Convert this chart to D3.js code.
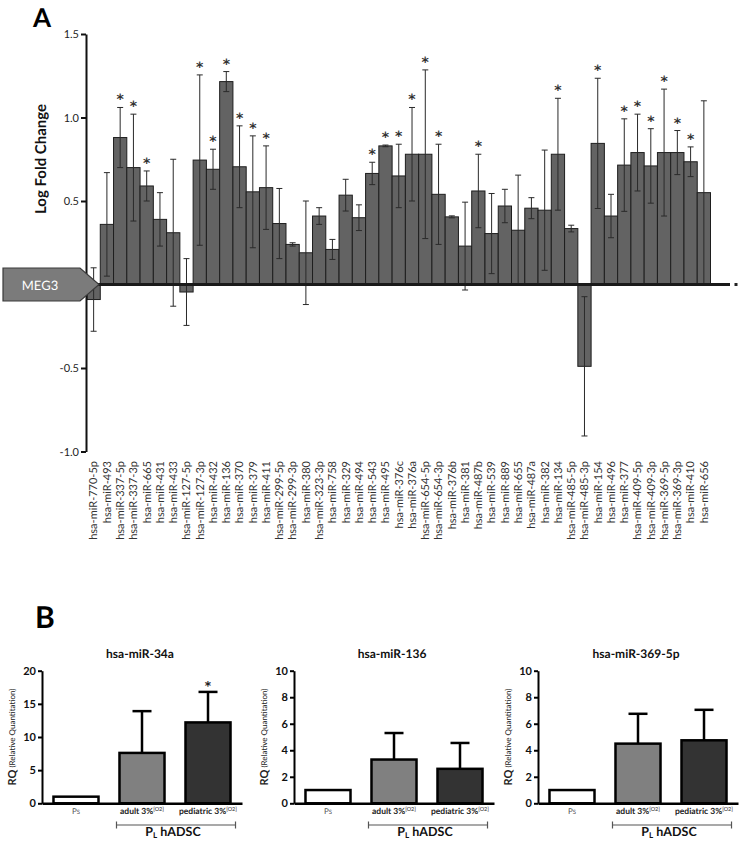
<!DOCTYPE html>
<html>
<head>
<meta charset="utf-8">
<script src="https://cdn.jsdelivr.net/npm/d3@7"></script>
<style>
  html, body { margin: 0; padding: 0; background: #fff; }
  svg { display: block; font-family: Lato, "Open Sans", sans-serif; }
</style>
</head>
<body>
<div id="chart"></div>
<script>
'use strict';

// Panel A data
const mirLabels = [
  'hsa-miR-770-5p', 'hsa-miR-493', 'hsa-miR-337-5p', 'hsa-miR-337-3p', 'hsa-miR-665',
  'hsa-miR-431', 'hsa-miR-433', 'hsa-miR-127-5p', 'hsa-miR-127-3p', 'hsa-miR-432',
  'hsa-miR-136', 'hsa-miR-370', 'hsa-miR-379', 'hsa-miR-411', 'hsa-miR-299-5p',
  'hsa-miR-299-3p', 'hsa-miR-380', 'hsa-miR-323-3p', 'hsa-miR-758', 'hsa-miR-329',
  'hsa-miR-494', 'hsa-miR-543', 'hsa-miR-495', 'hsa-miR-376c', 'hsa-miR-376a',
  'hsa-miR-654-5p', 'hsa-miR-654-3p', 'hsa-miR-376b', 'hsa-miR-381', 'hsa-miR-487b',
  'hsa-miR-539', 'hsa-miR-889', 'hsa-miR-655', 'hsa-miR-487a', 'hsa-miR-382',
  'hsa-miR-134', 'hsa-miR-485-5p', 'hsa-miR-485-3p', 'hsa-miR-154', 'hsa-miR-496',
  'hsa-miR-377', 'hsa-miR-409-5p', 'hsa-miR-409-3p', 'hsa-miR-369-5p', 'hsa-miR-369-3p',
  'hsa-miR-410', 'hsa-miR-656'
];
const logFold = [
  -0.09, 0.36, 0.88, 0.70, 0.59, 0.39, 0.31, -0.045, 0.745, 0.69,
  1.215, 0.705, 0.555, 0.58, 0.365, 0.24, 0.19, 0.41, 0.21, 0.535,
  0.40, 0.665, 0.83, 0.65, 0.78, 0.78, 0.54, 0.405, 0.23, 0.56,
  0.305, 0.47, 0.325, 0.457, 0.445, 0.78, 0.335, -0.49, 0.845, 0.41,
  0.715, 0.79, 0.71, 0.79, 0.79, 0.735, 0.55
];
const logErr = [
  0.19, 0.31, 0.18, 0.32, 0.09, 0.16, 0.44, 0.20, 0.51, 0.12,
  0.06, 0.245, 0.335, 0.25, 0.21, 0.01, 0.31, 0.05, 0.06, 0.095,
  0.077, 0.067, 0.005, 0.19, 0.28, 0.505, 0.30, 0.006, 0.263, 0.22,
  0.24, 0.10, 0.33, 0.063, 0.36, 0.335, 0.02, 0.417, 0.39, 0.13,
  0.277, 0.23, 0.223, 0.38, 0.132, 0.089, 0.55
];
const significant = [
  'hsa-miR-337-5p', 'hsa-miR-337-3p', 'hsa-miR-665', 'hsa-miR-127-3p', 'hsa-miR-432',
  'hsa-miR-136', 'hsa-miR-370', 'hsa-miR-379', 'hsa-miR-411', 'hsa-miR-543',
  'hsa-miR-495', 'hsa-miR-376c', 'hsa-miR-376a', 'hsa-miR-654-5p', 'hsa-miR-654-3p',
  'hsa-miR-487b', 'hsa-miR-134', 'hsa-miR-154', 'hsa-miR-377', 'hsa-miR-409-5p',
  'hsa-miR-409-3p', 'hsa-miR-369-5p', 'hsa-miR-369-3p', 'hsa-miR-410'
];
const ticksA = [-1.0, -0.5, 0, 0.5, 1.0, 1.5];

// Panel B data
const groupsB = ['Ps', 'adult', 'pediatric'];
const titlesB = ['hsa-miR-34a', 'hsa-miR-136', 'hsa-miR-369-5p'];
const maxB = [20, 10, 10];
const ticksB = [[0, 5, 10, 15, 20], [0, 2, 4, 6, 8, 10], [0, 2, 4, 6, 8, 10]];
const rqMiR34a = [1, 7.6, 12.2];
const sdMiR34a = [0, 6.3, 4.6];
const rqMiR136 = [1, 3.3, 2.6];
const sdMiR136 = [0, 2.0, 1.95];
const rqMiR369 = [1, 4.5, 4.75];
const sdMiR369 = [0, 2.25, 2.3];
const starB = [[false, false, true], [false, false, false], [false, false, false]];

const W = 740, H = 841;
const svg = d3.select('#chart').append('svg')
  .attr('width', W)
  .attr('height', H)
  .attr('text-rendering', 'geometricPrecision');

svg.append('rect').attr('width', W).attr('height', H).attr('fill', '#fff');

// ---------- Panel A ----------
const xA = d3.scaleBand().domain(mirLabels).range([87, 710.5]).padding(0);
const yA = d3.scaleLinear().domain([-1, 1.5]).range([451.5, 34]);
const dataA = mirLabels.map((m, i) => ({ m, v: logFold[i], e: logErr[i], sig: significant.includes(m) }));

const gA = svg.append('g');

gA.selectAll('.barA')
  .data(dataA)
  .enter().append('rect')
  .attr('class', 'barA')
  .attr('x', d => xA(d.m))
  .attr('width', xA.bandwidth())
  .attr('y', d => yA(Math.max(d.v, 0)))
  .attr('height', d => Math.abs(yA(d.v) - yA(0)))
  .attr('fill', '#636363')
  .attr('stroke', '#1e1e1e')
  .attr('stroke-width', 1);

// error bars
const errA = gA.selectAll('.errA')
  .data(dataA)
  .enter().append('g')
  .attr('class', 'errA')
  .attr('stroke', '#2a2a2a')
  .attr('stroke-width', 1);
const cx = d => xA(d.m) + xA.bandwidth() / 2;
errA.append('line')
  .attr('x1', cx).attr('x2', cx)
  .attr('y1', d => yA(d.v - d.e)).attr('y2', d => yA(d.v + d.e));
errA.append('line')
  .attr('x1', d => cx(d) - 3).attr('x2', d => cx(d) + 3)
  .attr('y1', d => yA(d.v + d.e)).attr('y2', d => yA(d.v + d.e));
errA.append('line')
  .attr('x1', d => cx(d) - 3).attr('x2', d => cx(d) + 3)
  .attr('y1', d => yA(d.v - d.e)).attr('y2', d => yA(d.v - d.e));

// significance stars
gA.selectAll('.starA')
  .data(dataA.filter(d => d.sig))
  .enter().append('text')
  .attr('x', cx)
  .attr('y', d => yA(d.v + d.e) - 3)
  .attr('text-anchor', 'middle')
  .attr('font-family', '"DejaVu Sans", sans-serif')
  .attr('font-weight', 'bold')
  .attr('font-size', '14px')
  .attr('fill', '#333')
  .text('*');

// zero line
gA.append('line')
  .attr('x1', 86).attr('x2', 730)
  .attr('y1', yA(0)).attr('y2', yA(0))
  .attr('stroke', '#1a1a1a')
  .attr('stroke-width', 3);
gA.append('rect')
  .attr('x', 734.5).attr('y', yA(0) - 1.5)
  .attr('width', 3).attr('height', 3)
  .attr('fill', '#222');

// y axis
gA.append('g')
  .attr('transform', 'translate(86,0)')
  .call(d3.axisLeft(yA).tickValues(ticksA).tickFormat(d => d.toFixed(1)).tickSize(5).tickSizeOuter(0).tickPadding(2))
  .call(g => g.select('.domain').attr('stroke', '#111').attr('stroke-width', 2))
  .call(g => g.selectAll('.tick line').attr('stroke', '#111').attr('stroke-width', 2))
  .call(g => g.selectAll('.tick text')
    .attr('fill', '#222')
    .attr('font-size', '11px')
    .attr('font-family', 'Lato, sans-serif'));

// x labels
gA.append('g')
  .attr('transform', 'translate(0,461)')
  .call(d3.axisBottom(xA).tickSize(0).tickPadding(0))
  .call(g => g.select('.domain').remove())
  .call(g => g.selectAll('.tick text')
    .attr('x', 0).attr('y', 0)
    .attr('dy', '0.35em')
    .attr('transform', 'rotate(-90)')
    .attr('text-anchor', 'end')
    .attr('fill', '#333')
    .attr('font-size', '11px')
    .attr('font-family', 'Lato, sans-serif'));

// y title
gA.append('text')
  .attr('transform', 'translate(41,159) rotate(-90)')
  .attr('text-anchor', 'middle')
  .attr('dominant-baseline', 'central')
  .attr('font-size', '15px')
  .attr('font-weight', 'bold')
  .attr('fill', '#111')
  .text('Log Fold Change');

// MEG3 arrow
gA.append('polygon')
  .attr('points', '3,268 80,268 99,284.5 80,301 3,301')
  .attr('fill', '#7b7b7b')
  .attr('stroke', '#3a3a3a')
  .attr('stroke-width', 1.2);
gA.append('text')
  .attr('x', 40).attr('y', 285)
  .attr('text-anchor', 'middle')
  .attr('dominant-baseline', 'central')
  .attr('font-size', '13px')
  .attr('fill', '#fff')
  .text('MEG3');

svg.append('text')
  .attr('x', 33).attr('y', 27)
  .attr('font-size', '26px')
  .attr('font-weight', 'bold')
  .attr('fill', '#000')
  .text('A');

// ---------- Panel B ----------
svg.append('text')
  .attr('x', 35).attr('y', 628)
  .attr('font-size', '30px')
  .attr('font-weight', 'bold')
  .attr('fill', '#000')
  .text('B');

const panelX = [42, 294, 538];
const rqB = [rqMiR34a, rqMiR136, rqMiR369];
const sdB = [sdMiR34a, sdMiR136, sdMiR369];
const fillB = ['#ffffff', '#808080', '#333333'];

panelX.forEach((x0, p) => {
  const g = svg.append('g');
  const x = d3.scaleBand().domain(groupsB).range([x0, x0 + 200]).paddingInner(0.318).paddingOuter(0.174);
  const y = d3.scaleLinear().domain([0, maxB[p]]).range([803.3, 670.7]);
  const bw = x.bandwidth();
  const rows = groupsB.map((k, i) => ({ k, v: rqB[p][i], e: sdB[p][i], star: starB[p][i], fill: fillB[i] }));

  // error bars (upper only)
  const eb = g.selectAll('.errB')
    .data(rows.filter(d => d.e > 0))
    .enter().append('g')
    .attr('stroke', '#000')
    .attr('stroke-width', 2.5);
  eb.append('line')
    .attr('x1', d => x(d.k) + bw / 2).attr('x2', d => x(d.k) + bw / 2)
    .attr('y1', d => y(d.v)).attr('y2', d => y(d.v + d.e));
  eb.append('line')
    .attr('x1', d => x(d.k) + bw / 2 - 9.5).attr('x2', d => x(d.k) + bw / 2 + 9.5)
    .attr('y1', d => y(d.v + d.e)).attr('y2', d => y(d.v + d.e));

  g.selectAll('.barB')
    .data(rows)
    .enter().append('rect')
    .attr('x', d => x(d.k))
    .attr('width', bw)
    .attr('y', d => y(d.v))
    .attr('height', d => y(0) - y(d.v))
    .attr('fill', d => d.fill)
    .attr('stroke', '#000')
    .attr('stroke-width', 2.5);

  g.selectAll('.starB')
    .data(rows.filter(d => d.star))
    .enter().append('text')
    .attr('x', d => x(d.k) + bw / 2)
    .attr('y', d => y(d.v + d.e) - 2)
    .attr('text-anchor', 'middle')
    .attr('font-family', '"DejaVu Sans", sans-serif')
    .attr('font-weight', 'bold')
    .attr('font-size', '12px')
    .attr('fill', '#222')
    .text('*');

  // axes
  g.append('g')
    .attr('transform', `translate(${x0},0)`)
    .call(d3.axisLeft(y).tickValues(ticksB[p]).tickSize(4).tickSizeOuter(0).tickPadding(2))
    .call(a => a.select('.domain').attr('stroke', '#000').attr('stroke-width', 2))
    .call(a => a.selectAll('.tick line').attr('stroke', '#000').attr('stroke-width', 2))
    .call(a => a.selectAll('.tick text')
      .attr('fill', '#111')
      .attr('font-size', '11px')
      .attr('font-weight', 'bold')
      .attr('font-family', 'Lato, sans-serif'));

  g.append('g')
    .attr('transform', `translate(0,${y(0)})`)
    .call(d3.axisBottom(x).tickSize(0).tickFormat(''))
    .call(a => a.select('.domain').attr('stroke', '#000').attr('stroke-width', 2.5));

  // category labels
  const lab = g.append('g').attr('fill', '#222').attr('text-anchor', 'middle');
  const ps = lab.append('text')
    .attr('x', x('Ps') + bw / 2).attr('y', 814)
    .attr('font-size', '8px').attr('fill', '#555');
  ps.append('tspan').text('P');
  ps.append('tspan').attr('font-size', '6px').text('S');
  [['adult', 'adult 3%'], ['pediatric', 'pediatric 3%']].forEach(([k, t]) => {
    const tx = lab.append('text')
      .attr('x', x(k) + bw / 2).attr('y', 814)
      .attr('font-size', '8.5px').attr('font-weight', 'bold');
    tx.append('tspan').text(t);
    tx.append('tspan').attr('font-size', '5.5px').attr('font-weight', 'normal').attr('dy', -3.5).text('[O2]');
  });

  // bracket
  const bx1 = x('adult') - 3, bx2 = x('pediatric') + bw + 5;
  g.append('path')
    .attr('d', `M${bx1},821.5V828.5M${bx1},825H${bx2}M${bx2},821.5V828.5`)
    .attr('fill', 'none')
    .attr('stroke', '#555')
    .attr('stroke-width', 1.2);
  const pl = g.append('text')
    .attr('x', (bx1 + bx2) / 2 - 3).attr('y', 836)
    .attr('text-anchor', 'middle')
    .attr('font-size', '12.5px')
    .attr('font-weight', 'bold')
    .attr('fill', '#111');
  pl.append('tspan').text('P');
  pl.append('tspan').attr('font-size', '8px').attr('dy', 2).text('L');
  pl.append('tspan').attr('dy', -2).text(' hADSC');

  // title
  g.append('text')
    .attr('x', x0 + 98).attr('y', 658)
    .attr('text-anchor', 'middle')
    .attr('font-size', '12px')
    .attr('font-weight', 'bold')
    .attr('fill', '#111')
    .text(titlesB[p]);

  // y title
  const yt = g.append('text')
    .attr('transform', `translate(${x0 - 30},737) rotate(-90)`)
    .attr('text-anchor', 'middle')
    .attr('dominant-baseline', 'central')
    .attr('fill', '#222');
  yt.append('tspan').attr('font-size', '11px').attr('font-weight', 'bold').text('RQ');
  yt.append('tspan').attr('font-size', '8px').text(' (Relative Quantitation)');
});
</script>
</body>
</html>
